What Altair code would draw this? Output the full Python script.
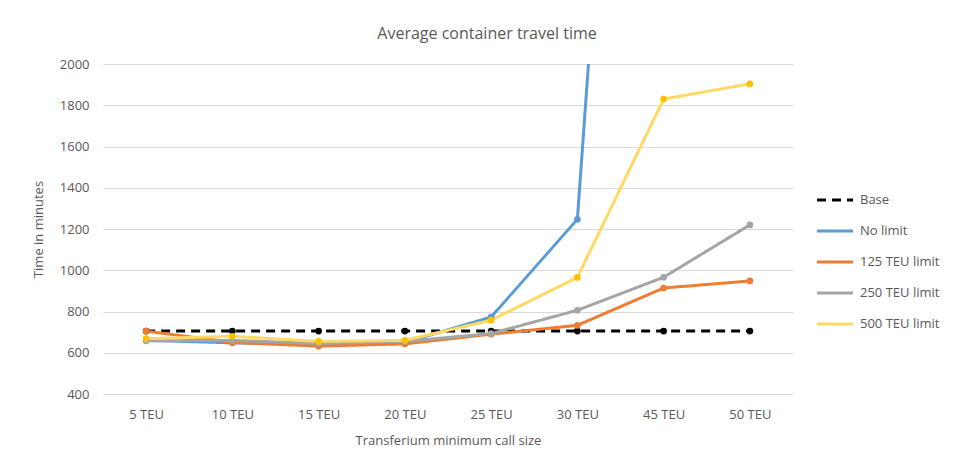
import altair as alt
import pandas as pd

categories = ["5 TEU", "10 TEU", "15 TEU", "20 TEU", "25 TEU", "30 TEU", "45 TEU", "50 TEU"]
series_names = ["Base", "No limit", "125 TEU limit", "250 TEU limit", "500 TEU limit"]
base = [705, 705, 705, 705, 705, 705, 705, 705]
no_limit = [660, 648, 640, 650, 773, 1247, 7100, 7600]
limit_125 = [705, 650, 632, 643, 690, 733, 914, 948]
limit_250 = [658, 660, 645, 655, 693, 806, 966, 1220]
limit_500 = [668, 680, 655, 660, 758, 965, 1830, 1904]

line_colors = ["#000000", "#5B9BD5", "#ED7D31", "#A5A5A5", "#FFD966"]
point_colors = ["#000000", "#5B9BD5", "#ED7D31", "#A5A5A5", "#FFC000"]
dashes = [[9, 6], [1, 0], [1, 0], [1, 0], [1, 0]]

rows = []
for name, vals, pc in zip(series_names, [base, no_limit, limit_125, limit_250, limit_500], point_colors):
    for c, v in zip(categories, vals):
        rows.append({"series": name, "cat": c, "value": v, "pcolor": pc})
df = pd.DataFrame(rows)

FONT = "Open Sans"
TXT = "#595959"

x_enc = alt.X("cat:N", sort=categories,
              scale=alt.Scale(type="point", padding=0.5),
              axis=alt.Axis(title="Transferium minimum call size", labelAngle=0,
                            ticks=False, domain=False, grid=False,
                            labelFontSize=13, labelColor=TXT, labelPadding=14,
                            titleFontSize=13, titleColor=TXT, titleFontWeight="normal",
                            titlePadding=13, labelFont=FONT, titleFont=FONT))
y_enc = alt.Y("value:Q",
              scale=alt.Scale(domain=[400, 2000], nice=False, zero=False),
              axis=alt.Axis(title="Time in minutes", values=list(range(400, 2001, 200)),
                            format="d", ticks=False, domain=False, gridColor="#D9D9D9",
                            labelFontSize=13, labelColor=TXT, labelPadding=14,
                            titleFontSize=13, titleColor=TXT, titleFontWeight="normal",
                            titlePadding=14, labelFont=FONT, titleFont=FONT))

legend = alt.Legend(title=None, orient="none", legendX=712, legendY=116,
                    symbolType="stroke", symbolSize=1300, symbolStrokeWidth=3,
                    labelFontSize=13, labelColor=TXT, labelFont=FONT,
                    rowPadding=4, labelOffset=5)

lines = alt.Chart(df).mark_line(strokeWidth=3, clip=True).encode(
    x=x_enc, y=y_enc,
    color=alt.Color("series:N", sort=series_names,
                    scale=alt.Scale(domain=series_names, range=line_colors),
                    legend=legend),
    strokeDash=alt.StrokeDash("series:N", sort=series_names,
                              scale=alt.Scale(domain=series_names, range=dashes),
                              legend=legend),
)

points = alt.Chart(df).mark_point(filled=True, size=45, opacity=1, clip=True).encode(
    x=x_enc, y=y_enc,
    color=alt.Color("pcolor:N", scale=None, legend=None),
    detail="series:N"
)

chart = alt.layer(lines, points).properties(
    width=690, height=330,
    padding={"left": 95, "top": 56, "right": 153, "bottom": 63},
    autosize=alt.AutoSizeParams(type="none"),
    title=alt.TitleParams("Average container travel time", fontSize=16, color=TXT,
                          font=FONT, fontWeight="normal", anchor="middle", dx=39, offset=16)
).configure_view(stroke=None)

chart.save("out.html", embed_options={"renderer": "svg", "actions": False})
